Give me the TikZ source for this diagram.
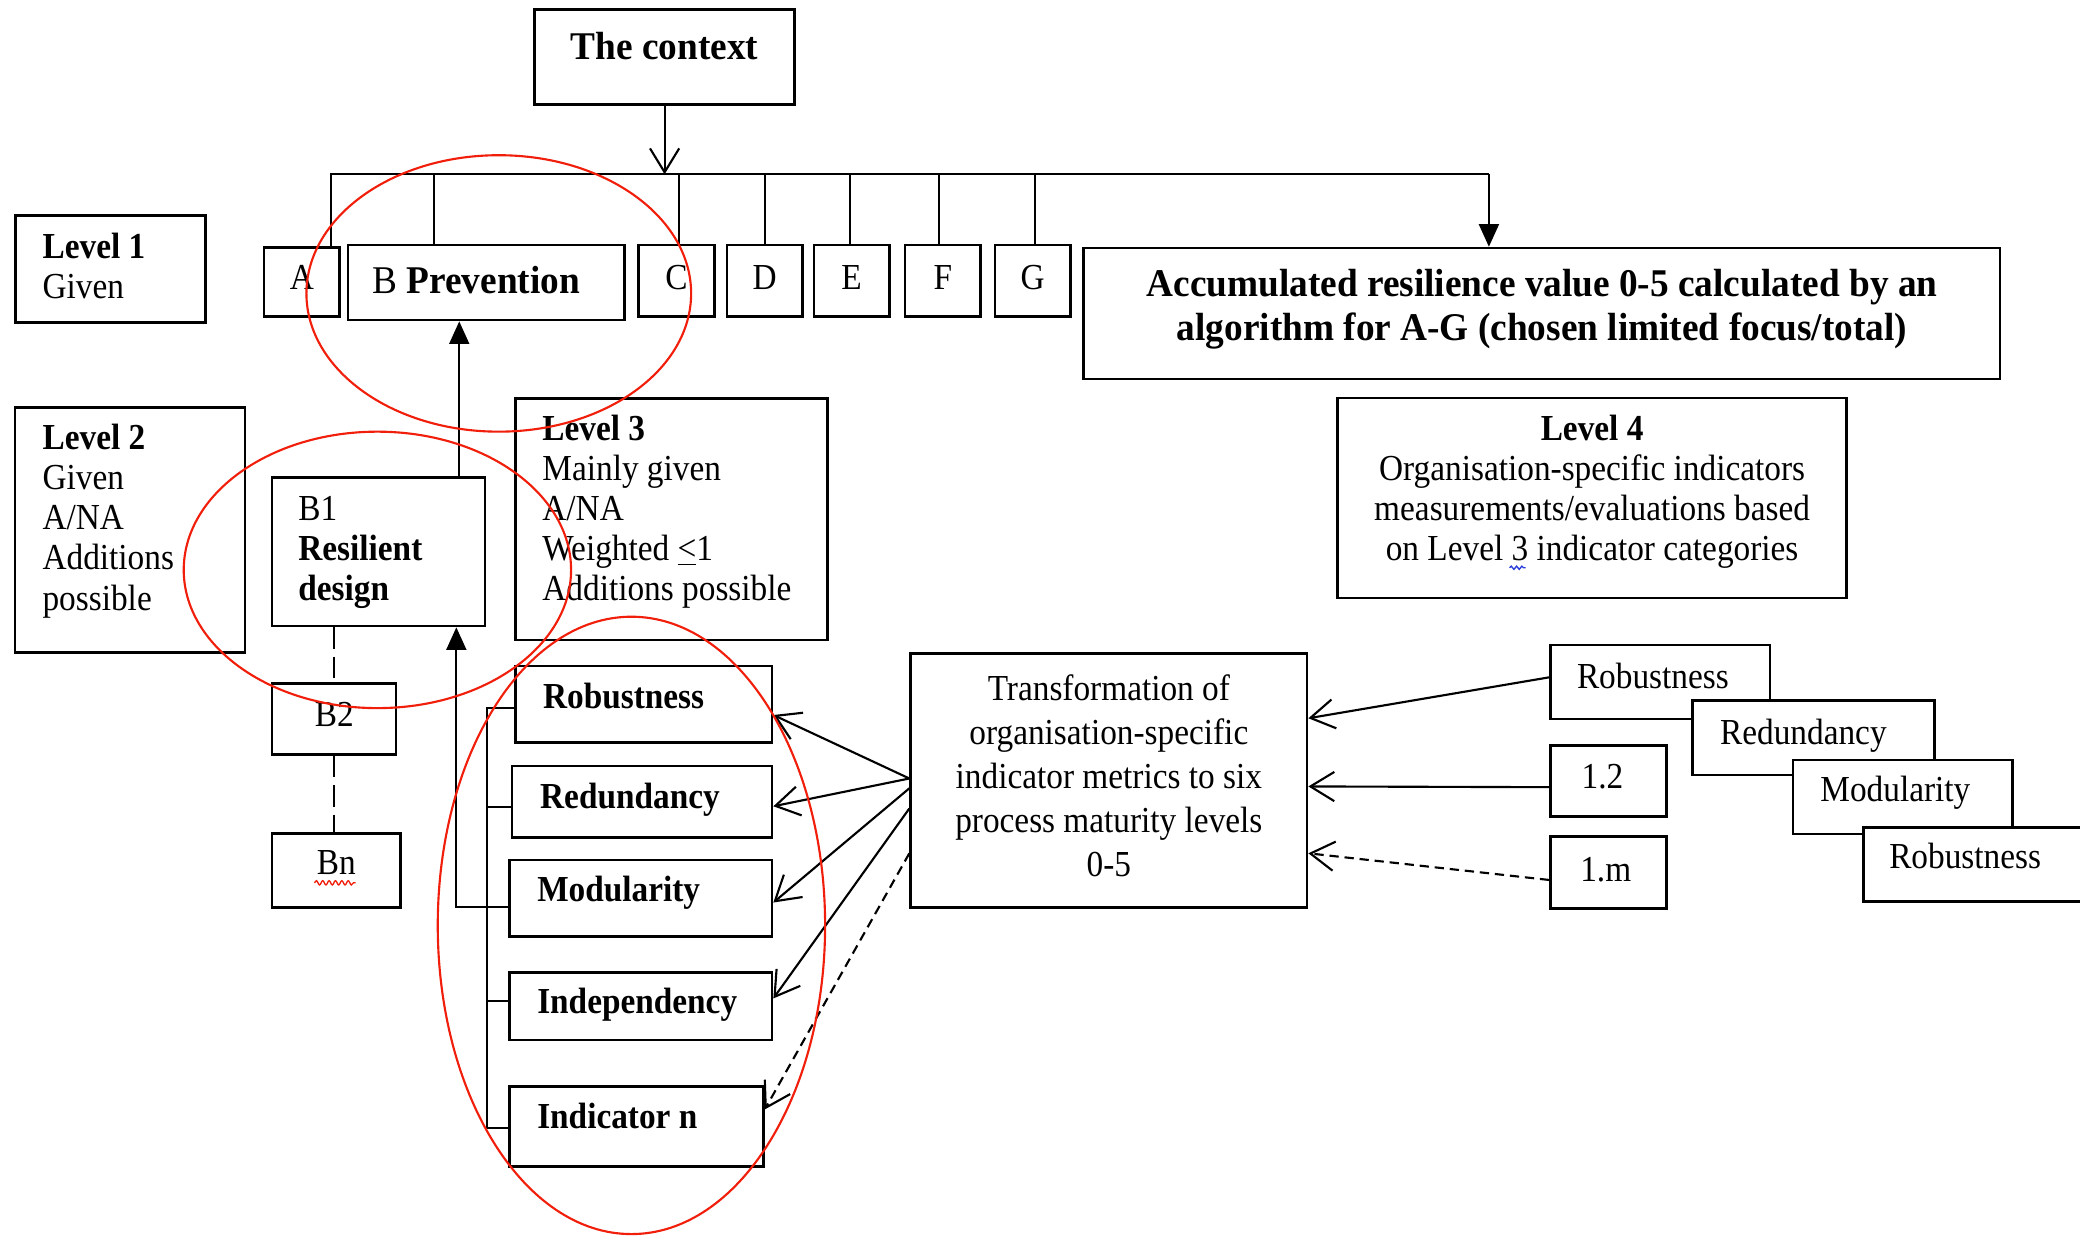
\documentclass[tikz,border=0pt]{standalone}
\usepackage{fontspec}
\setmainfont{Liberation Serif}[FakeStretch=0.91]
\newfontfamily\bigserif{Liberation Serif}[FakeStretch=0.95]
\usetikzlibrary{arrows.meta,fit,decorations.pathmorphing}
\definecolor{markred}{RGB}{240,30,10}
\definecolor{checkblue}{RGB}{40,60,220}

\begin{document}
\begin{tikzpicture}[x=0.5pt,y=-0.5pt,
  frame/.style={draw, line width=1pt, fill=white, inner sep=0pt},
  txt/.style={inner sep=0pt, font=\fontsize{13.8}{15.15}\selectfont},
  ltxt/.style={txt, align=left},
  ctxt/.style={txt, align=center},
  bigtxt/.style={inner sep=0pt, align=center, font=\bigserif\fontsize{14.8}{16.6}\selectfont},
  link/.style={line width=0.8pt},
  openarrow/.style={link, -{Straight Barb[length=9pt,width=11pt]}},
  fillarrow/.style={link, -{Triangle[length=8.5pt,width=7.5pt]}},
  dashlink/.style={link, dash pattern=on 8pt off 3pt},
  shortdash/.style={dash pattern=on 3.5pt off 2.2pt},
  ring/.style={draw=markred, line width=0.8pt},
  squiggle/.style={line width=0.5pt, decorate, decoration={snake, amplitude=0.8pt, segment length=2.4pt}},
]
\fill[white] (0,0) rectangle (1568,932);
\useasboundingbox (0,0) rectangle (1568,932);
\clip (0,0) rectangle (1568,932);

% ---- top: context and level 1 ----
% (multi-line labels are anchored on the baseline of their last line)
\node[frame, fit={(403,7)(599,79)}] (ctx) {};
\node[bigtxt, font=\bigserif\fontsize{14.8}{16.6}\selectfont\bfseries, anchor=base] (ctxT) at (501,44.7) {The context};

\node[frame, fit={(11.6,162.3)(155,243.3)}] (lv1) {};
\node[ltxt, anchor=base west] (lv1T) at (31.7,225) {\textbf{Level 1}\\Given};

\node[frame, fit={(198.9,186.5)(256,238.8)}] (A) {};
\node[frame, fit={(262.3,184.7)(470.6,241.3)}] (B) {};
\node[frame, fit={(481.3,184.7)(538.4,238.8)}] (C) {};
\node[frame, fit={(548,184.7)(605,238.8)}] (D) {};
\node[frame, fit={(613.5,184.7)(670.6,238.8)}] (E) {};
\node[frame, fit={(682.3,184.7)(739.3,238.8)}] (F) {};
\node[frame, fit={(750,184.7)(807,238.8)}] (G) {};
\node[txt, anchor=base] (AT) at (227.5,218.6) {A};
\node[bigtxt, anchor=base west] (BT) at (280.3,221) {B \textbf{Prevention}};
\node[txt, anchor=base] (CT) at (510,218.6) {C};
\node[txt, anchor=base] (DT) at (576.5,218.6) {D};
\node[txt, anchor=base] (ET) at (642,218.6) {E};
\node[txt, anchor=base] (FT) at (710.8,218.6) {F};
\node[txt, anchor=base] (GT) at (778.5,218.6) {G};

\node[frame, fit={(817,187)(1507.7,285.6)}] (acc) {};
\node[bigtxt, font=\bigserif\fontsize{14.8}{16.6}\selectfont\bfseries, anchor=base] (accT) at (1162.4,256.8)
  {Accumulated resilience value 0-5 calculated by an\\algorithm for A-G (chosen limited focus/total)};

% distribution bus from the context
\coordinate (busL) at (249.6,131.4);
\coordinate (busR) at (1122.4,131.4);
\draw[openarrow] (ctx.south) -- (ctx.south |- busL);
\draw[link] (busL |- A.north) -- (busL) -- (busR);
\draw[fillarrow] (busR) -- (busR |- acc.north);
\coordinate (tapB) at (327,131.4);
\coordinate (tapC) at (512,131.4);
\coordinate (tapD) at (577,131.4);
\coordinate (tapE) at (641,131.4);
\coordinate (tapF) at (708,131.4);
\coordinate (tapG) at (780,131.4);
\draw[link] (tapB) -- (tapB |- B.north);
\draw[link] (tapC) -- (tapC |- C.north);
\draw[link] (tapD) -- (tapD |- D.north);
\draw[link] (tapE) -- (tapE |- E.north);
\draw[link] (tapF) -- (tapF |- F.north);
\draw[link] (tapG) -- (tapG |- G.north);

% ---- levels 2 to 4 ----
\node[frame, fit={(11.3,307)(184.8,491.8)}] (lv2) {};
\node[ltxt, anchor=base west] (lv2T) at (31.7,459.9) {\textbf{Level 2}\\Given\\A/NA\\Additions\\possible};

\node[frame, fit={(205,360)(365.7,471.9)}] (B1) {};
\node[ltxt, anchor=base west] (B1T) at (224.5,452.8) {B1\\\textbf{Resilient}\\\textbf{design}};

\node[frame, fit={(388.6,300.3)(624,482.5)}] (lv3) {};
\node[ltxt, anchor=base west] (lv3T) at (408.5,453)
  {\textbf{Level 3}\\Mainly given\\A/NA\\Weighted \underline{<}1\\Additions possible};

\node[frame, fit={(1008.5,300)(1392,450.7)}] (lv4) {};
\node[ctxt, anchor=base] (lv4T) at (1200.2,422.7)
  {\textbf{Level 4}\\Organisation-specific indicators\\measurements/evaluations based\\on Level 3 indicator categories};
\draw[checkblue, squiggle, decoration={amplitude=0.6pt, segment length=2pt}] (1138,428) -- (1150,428);

\node[frame, fit={(205,515)(298.6,569)}] (B2) {};
\node[txt, anchor=base] (B2T) at (252,547.8) {B2};
\node[frame, fit={(205,628.3)(302,684.3)}] (Bn) {};
\node[txt, anchor=base] (BnT) at (253.5,659.6) {Bn};
\draw[markred, squiggle] (237,665.5) -- (268,665.5);

\draw[dashlink] (B1.south -| B2.north) -- (B2.north);
\draw[dashlink] (B2.south) -- (B2.south |- Bn.north);

\coordinate (upB) at (346.2,360);
\draw[fillarrow] (upB) -- (upB |- B.south);

% ---- level 3 indicator categories ----
\node[frame, fit={(388.6,502)(582,559.6)}] (rob) {};
\node[txt, anchor=base west] (robT) at (409,534) {\textbf{Robustness}};
\node[frame, fit={(386,577.5)(582,631.3)}] (red) {};
\node[txt, anchor=base west] (redT) at (406.8,609.4) {\textbf{Redundancy}};
\node[frame, fit={(384,648.3)(582,706)}] (mod) {};
\node[txt, anchor=base west] (modT) at (404.6,679.7) {\textbf{Modularity}};
\node[frame, fit={(384,733.3)(582,784)}] (ind) {};
\node[txt, anchor=base west] (indT) at (404.6,764) {\textbf{Independency}};
\node[frame, fit={(384,819.2)(575.5,879.5)}] (indn) {};
\node[txt, anchor=base west] (indnT) at (404.6,850.6) {\textbf{Indicator n}};

% bracket joining the categories
\coordinate (brT) at (367,533.5);
\coordinate (brB) at (367,850.6);
\coordinate (stR) at (367,608.6);
\coordinate (stI) at (367,754.6);
\draw[link] (brT -| rob.west) -- (brT) -- (brB) -- (brB -| indn.west);
\draw[link] (stR) -- (stR -| red.west);
\draw[link] (stI) -- (stI -| ind.west);
\coordinate (stM) at (344,683.5);
\draw[fillarrow] (stM -| mod.west) -- (stM) -- (stM |- B1.south);

% ---- transformation ----
\node[frame, fit={(686.5,492.5)(985.3,684)}] (trans) {};
\node[ctxt, font=\fontsize{13.8}{16.5}\selectfont, anchor=base] (transT) at (835.9,660.4)
  {Transformation of\\organisation-specific\\indicator metrics to six\\process maturity levels\\0-5};

\draw[openarrow] ([yshift=0.7pt]trans.west) -- ([yshift=-4.1pt]rob.east);
\draw[openarrow] ([yshift=0.7pt]trans.west) -- ([yshift=-1.7pt]red.east);
\draw[openarrow] ([yshift=-3pt]trans.west) -- ([yshift=-1.6pt]mod.east);
\draw[openarrow] ([yshift=-10.6pt]trans.west) -- ([yshift=3pt]ind.east);
\draw[openarrow, shortdash] ([yshift=-27.5pt]trans.west) -- ([yshift=6.5pt]indn.east);

% ---- level 4 inputs ----
\node[frame, fit={(1168.8,486.2)(1334.3,542)}] (in1) {};
\node[txt, anchor=base west] (in1T) at (1188.4,519) {Robustness};
\node[frame, fit={(1276,528.2)(1458.4,584.3)}] (in2) {};
\node[txt, anchor=base west] (in2T) at (1296.3,560.9) {Redundancy};
\node[frame, fit={(1351.7,573)(1517.2,628.7)}] (in3) {};
\node[txt, anchor=base west] (in3T) at (1371.9,603.9) {Modularity};
\node[frame, fit={(1404.8,624)(1620,679.7)}] (in4) {};
\node[txt, anchor=base west] (in4T) at (1423.8,654.6) {Robustness};

\node[frame, fit={(1168.8,561.9)(1256.5,615.7)}] (m12) {};
\node[txt, anchor=base] (m12T) at (1208,594.3) {1.2};
\node[frame, fit={(1168.8,630.7)(1256.5,684.8)}] (m1m) {};
\node[txt, anchor=base] (m1mT) at (1210.5,664.7) {1.m};

\draw[openarrow] ([yshift=1.75pt]in1.west) -- ([yshift=23.4pt]trans.east);
\draw[openarrow] ([yshift=-2.3pt]m12.west) -- ([yshift=-2.3pt]trans.east);
\draw[openarrow, shortdash] ([yshift=-2.8pt]m1m.west) -- ([yshift=-27.5pt]trans.east);

% ---- highlighted groups ----
\draw[ring] (376,221.2) ellipse [x radius=145, y radius=104.2];
\draw[ring] (284.5,429.6) ellipse [x radius=146, y radius=104.2];
\draw[ring] (476,697.6) ellipse [x radius=146, y radius=232.7];
\end{tikzpicture}
\end{document}
